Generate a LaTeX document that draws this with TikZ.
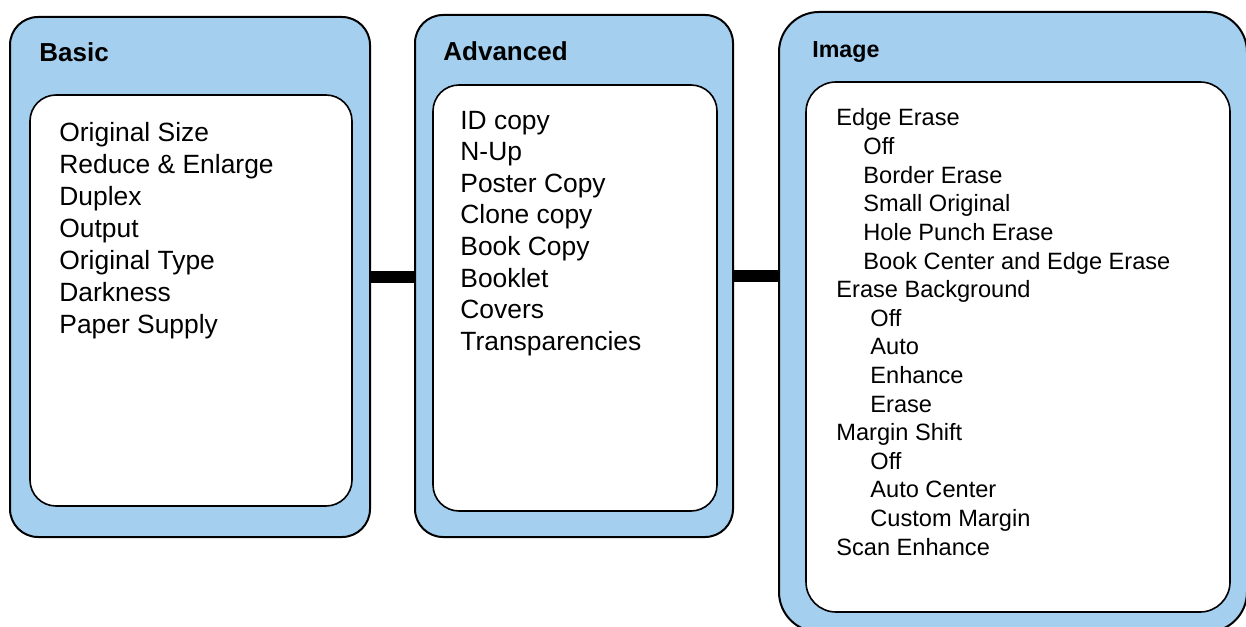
\documentclass[tikz,border=0pt]{standalone}
\usepackage{fontspec}
\setmainfont{Liberation Sans}
\usepackage{xcolor}
\usetikzlibrary{positioning,calc}
\definecolor{panelblue}{RGB}{164,207,239}

\begin{document}
\begin{tikzpicture}[x=0.5pt, y=-0.5pt,
    panel/.style={draw, line width=1pt, fill=panelblue, rounded corners=14pt, inner sep=0pt},
    listbox/.style={draw, line width=0.8pt, fill=white, rounded corners=13pt, inner sep=0pt},
    title/.style={font=\fontsize{13}{15}\selectfont\bfseries, anchor=base west, inner sep=0pt},
    item/.style={font=\fontsize{13.2}{16}\selectfont, anchor=base west, inner sep=0pt},
    subitem/.style={font=\fontsize{11.8}{14}\selectfont, anchor=base west, inner sep=0pt},
    bar/.style={line width=6pt}]
  \useasboundingbox (0,0) rectangle (1246,626);
  \clip (0,0) rectangle (1246,626);
  % outer panels and their white lists (sizes in pt, half the pixels)
  \node[panel, minimum width=180pt, minimum height=260pt] (basic) at (190,277) {};
  \node[listbox, minimum width=161pt, minimum height=205.5pt] (basiclist) at (191,300.5) {};
  \node[panel, minimum width=159pt, minimum height=261pt] (adv) at (574,276) {};
  \node[listbox, minimum width=142pt, minimum height=213pt] (advlist) at (575,298) {};
  \node[panel, rounded corners=20pt, minimum width=234pt, minimum height=310pt] (img) at (1013,322) {};
  \node[listbox, rounded corners=15pt, minimum width=212pt, minimum height=265pt] (imglist) at (1018,347) {};
  % links between panels
  \draw[bar] (basic.east) -- (basic.east -| adv.west);
  \draw[bar] (adv.east) -- (adv.east -| img.west);
  % titles
  \node[title] (basictitle) at (39,62) {Basic};
  \node[title] (advtitle) at (443,61) {Advanced};
  \node[title, font=\fontsize{11.6}{14}\selectfont\bfseries] (imgtitle) at (812,58) {Image};
  % basic list
  \foreach \t [count=\i] in {Original Size, Reduce \& Enlarge, Duplex, Output,
      Original Type, Darkness, Paper Supply}
    \node[item] (b\i) at (59,{141+(\i-1)*32}) {\t};
  % advanced list
  \foreach \t [count=\i] in {ID copy, N-Up, Poster Copy, Clone copy, Book Copy,
      Booklet, Covers, Transparencies}
    \node[item] (a\i) at (460,{129+(\i-1)*31.6}) {\t};
  % image list, x gives the indent
  \foreach \xx/\t [count=\i] in {836/Edge Erase, 863/Off, 863/Border Erase,
      863/Small Original, 863/Hole Punch Erase, 863/Book Center and Edge Erase,
      836/Erase Background, 870/Off, 870/Auto, 870/Enhance, 870/Erase,
      836/Margin Shift, 870/Off, 870/Auto Center, 870/Custom Margin, 836/Scan Enhance}
    \node[subitem] (m\i) at (\xx,{126+(\i-1)*28.6}) {\t};
\end{tikzpicture}
\end{document}
